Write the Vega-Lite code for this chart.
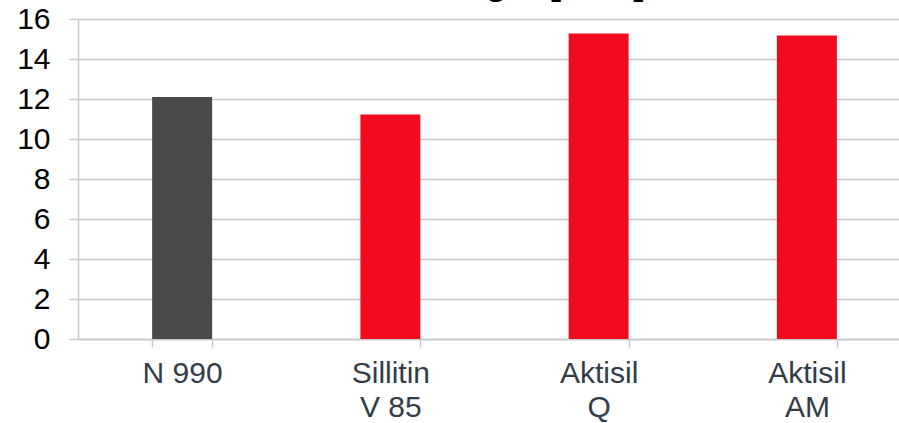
{
  "$schema": "https://vega.github.io/schema/vega-lite/v6.json",
  "width": 821,
  "height": 320,
  "autosize": {"type": "none"},
  "padding": {"left": 78, "top": 19, "right": 0, "bottom": 84},
  "background": "white",
  "title": {
    "text": "Tensile strength [MPa]",
    "font": "Liberation Sans",
    "fontSize": 35,
    "fontWeight": "bold",
    "color": "#000000",
    "anchor": "middle",
    "frame": "group",
    "baseline": "alphabetic",
    "offset": 0,
    "dx": -30,
    "dy": 26
  },
  "data": {
    "values": [
      {"filler": "N 990", "value": 12.1, "kind": "ref"},
      {"filler": "Sillitin V 85", "value": 11.23, "kind": "test"},
      {"filler": "Aktisil Q", "value": 15.27, "kind": "test"},
      {"filler": "Aktisil AM", "value": 15.18, "kind": "test"}
    ]
  },
  "config": {
    "view": {"stroke": null},
    "font": "Liberation Sans"
  },
  "mark": {"type": "bar"},
  "encoding": {
    "x": {
      "field": "filler",
      "type": "nominal",
      "sort": null,
      "scale": {"range": [0, 833], "paddingInner": 0.712, "paddingOuter": 0.356},
      "axis": {
        "title": null,
        "labelAngle": 0,
        "labelExpr": "datum.value == 'N 990' ? 'N 990' : datum.value == 'Sillitin V 85' ? ['Sillitin', 'V 85'] : datum.value == 'Aktisil Q' ? ['Aktisil', 'Q'] : datum.value == 'Aktisil AM' ? ['Aktisil', 'AM'] : ''",
        "labelFont": "Liberation Sans",
        "labelFontSize": 30,
        "labelColor": "#333d47",
        "labelLineHeight": 34,
        "labelPadding": 11,
        "tickBand": "extent",
        "tickSize": 8,
        "tickColor": "#c8c8c8",
        "tickWidth": 1.5,
        "domainColor": "#c8c8c8",
        "domainWidth": 1.5,
        "grid": false
      }
    },
    "y": {
      "field": "value",
      "type": "quantitative",
      "scale": {"domain": [0, 16]},
      "axis": {
        "title": null,
        "values": [0, 2, 4, 6, 8, 10, 12, 14, 16],
        "labelFont": "Liberation Sans",
        "labelFontSize": 30,
        "labelColor": "#000000",
        "labelPadding": 19,
        "tickSize": 9,
        "tickColor": "#c8c8c8",
        "tickWidth": 1.5,
        "domainColor": "#c8c8c8",
        "domainWidth": 1.5,
        "grid": true,
        "gridColor": "#c8c8c8",
        "gridWidth": 1.5
      }
    },
    "color": {
      "field": "kind",
      "type": "nominal",
      "scale": {"domain": ["ref", "test"], "range": ["#494949", "#f00c1e"]},
      "legend": null
    }
  }
}
